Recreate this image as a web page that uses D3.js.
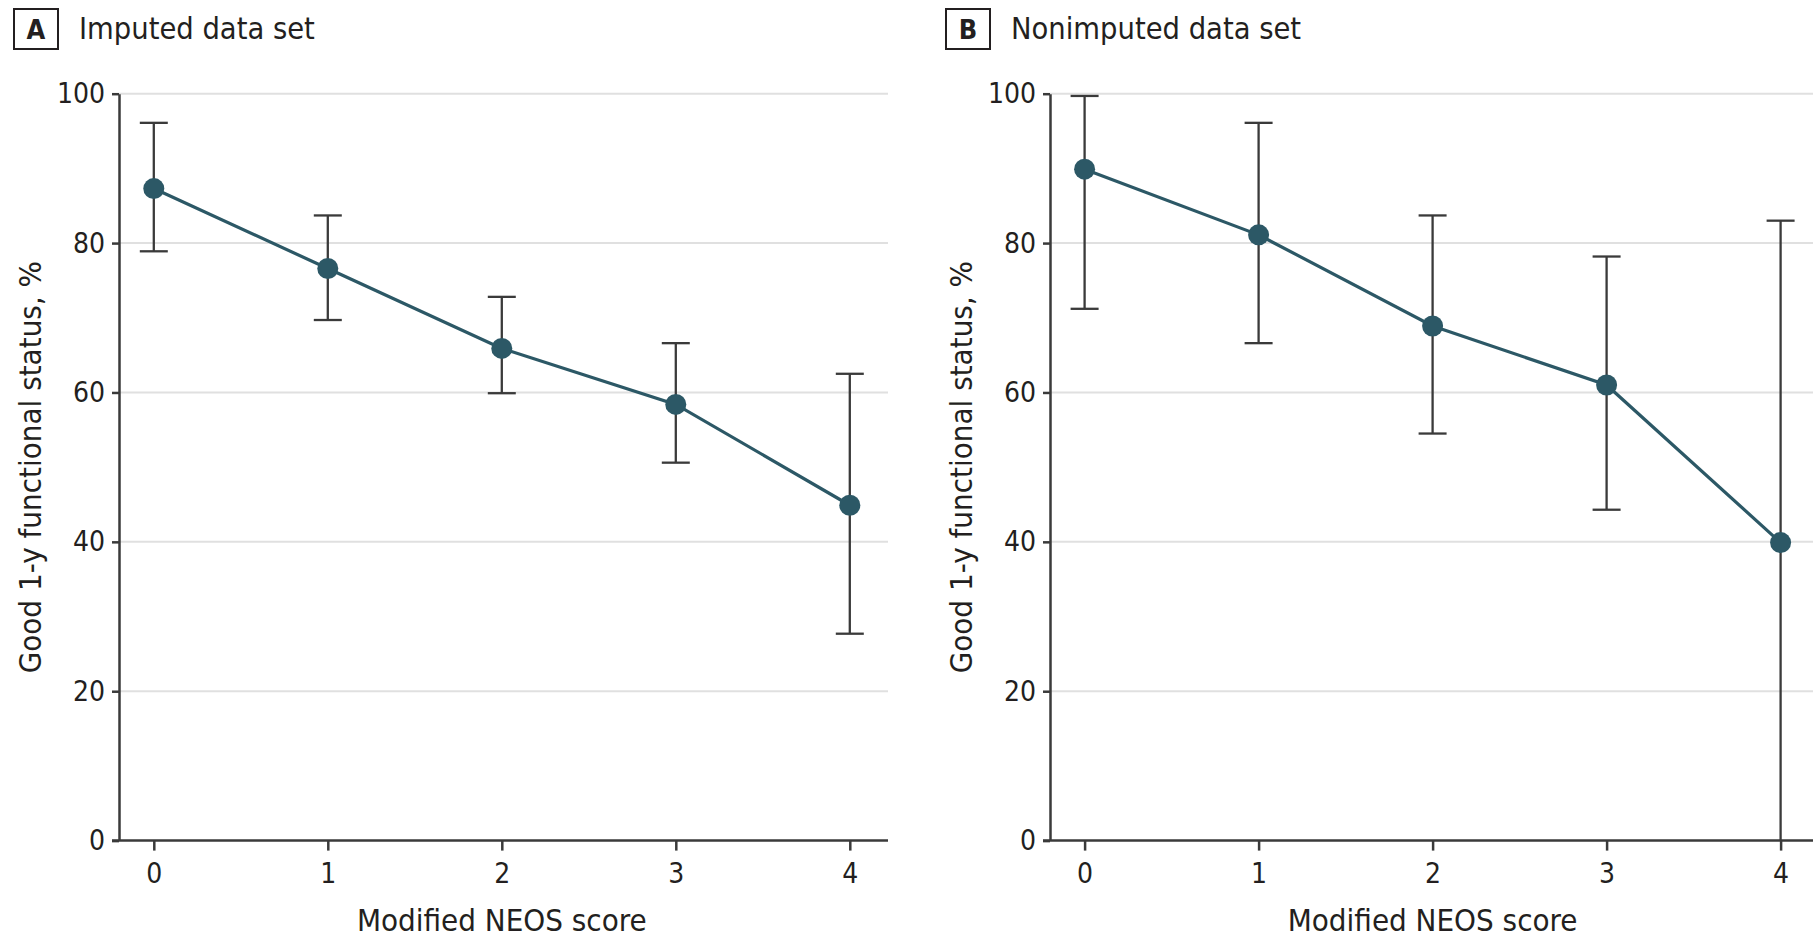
<!DOCTYPE html>
<html>
<head>
<meta charset="utf-8">
<script src="https://cdn.jsdelivr.net/npm/d3@7"></script>
<style>
  html, body { margin: 0; padding: 0; background: #fff; }
  svg { display: block; }
  text { font-family: "Liberation Sans Narrow", "DejaVu Sans Condensed", "Noto Sans", sans-serif; fill: #231f20; }
</style>
</head>
<body>
<svg id="chart" width="1813" height="944"></svg>
<script>
// ---- Data ----
const scores = [0, 1, 2, 3, 4];
const yTicks = [0, 20, 40, 60, 80, 100];

const imputedEstimate = [87.3, 76.6, 65.9, 58.4, 44.9];
const imputedLower    = [78.9, 69.7, 59.9, 50.6, 27.7];
const imputedUpper    = [96.1, 83.7, 72.8, 66.6, 62.5];

const nonimputedEstimate = [89.9, 81.1, 68.9, 61.0, 39.9];
const nonimputedLower    = [71.2, 66.6, 54.5, 44.3, 0.0];
const nonimputedUpper    = [99.7, 96.1, 83.7, 78.2, 83.0];

const panelLetters = ["A", "B"];
const panelTitles = ["Imputed data set", "Nonimputed data set"];
const xTitle = "Modified NEOS score";
const yTitle = "Good 1-y functional status, %";

// ---- Drawing ----
const svg = d3.select("#chart");
const lineColor = "#2c5866";
const axisColor = "#3a3a3a";
const gridColor = "#e0e0e0";
const fontStack = '"Liberation Sans Narrow", "DejaVu Sans Condensed", sans-serif';

const plotTop = 93.7, plotBottom = 840.6;

const panels = [
  { letter: panelLetters[0], title: panelTitles[0], est: imputedEstimate, lo: imputedLower, hi: imputedUpper,
    axisX: 119, rightX: 888, x0: 153.8, x4: 849.8, boxX: 14, titleX: 79, yTitleX: 31 },
  { letter: panelLetters[1], title: panelTitles[1], est: nonimputedEstimate, lo: nonimputedLower, hi: nonimputedUpper,
    axisX: 1050, rightX: 1813, x0: 1084.6, x4: 1780.6, boxX: 946, titleX: 1011, yTitleX: 962 }
];

panels.forEach(p => {
  const g = svg.append("g");
  const x = d3.scaleLinear().domain([0, 4]).range([p.x0, p.x4]);
  const y = d3.scaleLinear().domain([0, 100]).range([plotBottom, plotTop]);

  // gridlines
  g.append("g").selectAll("line").data(yTicks.filter(t => t > 0)).join("line")
    .attr("x1", p.axisX).attr("x2", p.rightX)
    .attr("y1", d => y(d)).attr("y2", d => y(d))
    .attr("stroke", gridColor).attr("stroke-width", 2);

  // y axis
  const yAxis = d3.axisLeft(y).tickValues(yTicks).tickSize(7).tickPadding(7).tickSizeOuter(0);
  const ya = g.append("g").attr("transform", `translate(${p.axisX},0)`).call(yAxis);
  ya.select(".domain").attr("stroke", axisColor).attr("stroke-width", 2.5);
  ya.selectAll(".tick line").attr("stroke", axisColor).attr("stroke-width", 2.5);
  ya.selectAll(".tick text").style("font-size", "28px").attr("fill", "#231f20")
    .style("font-family", fontStack);

  // x axis
  const xAxis = d3.axisBottom(x).tickValues(scores).tickSize(10).tickPadding(13).tickSizeOuter(0)
    .tickFormat(d3.format("d"));
  const xa = g.append("g").attr("transform", `translate(0,${plotBottom})`).call(xAxis);
  xa.select(".domain").attr("d", `M${p.axisX - 7},0H${p.rightX}`)
    .attr("stroke", axisColor).attr("stroke-width", 2.5);
  xa.selectAll(".tick line").attr("stroke", axisColor).attr("stroke-width", 2.5);
  xa.selectAll(".tick text").style("font-size", "28px").attr("fill", "#231f20")
    .style("font-family", fontStack);

  // axis titles
  g.append("text").attr("x", (p.x0 + p.x4) / 2).attr("y", 931)
    .attr("text-anchor", "middle").style("font-size", "31px").text(xTitle);
  g.append("text").attr("transform", `translate(${p.yTitleX + 10},${(plotTop + plotBottom) / 2}) rotate(-90)`)
    .attr("text-anchor", "middle").style("font-size", "31px").text(yTitle);

  // panel label and title
  g.append("rect").attr("x", p.boxX).attr("y", 9).attr("width", 44).attr("height", 40)
    .attr("fill", "none").attr("stroke", "#231f20").attr("stroke-width", 2);
  g.append("text").attr("x", p.boxX + 22).attr("y", 39).attr("text-anchor", "middle")
    .style("font-size", "27px").style("font-weight", "bold").text(p.letter);
  g.append("text").attr("x", p.titleX).attr("y", 39)
    .style("font-size", "30.5px").attr("fill", "#231f20").text(p.title);

  const data = scores.map((s, i) => ({ s, est: p.est[i], lo: p.lo[i], hi: p.hi[i] }));

  // error bars
  const eb = g.append("g").attr("stroke", axisColor).attr("stroke-width", 2.3);
  eb.selectAll("line.v").data(data).join("line").attr("class", "v")
    .attr("x1", d => x(d.s)).attr("x2", d => x(d.s))
    .attr("y1", d => y(d.lo)).attr("y2", d => y(d.hi));
  eb.selectAll("line.top").data(data).join("line").attr("class", "top")
    .attr("x1", d => x(d.s) - 14).attr("x2", d => x(d.s) + 14)
    .attr("y1", d => y(d.hi)).attr("y2", d => y(d.hi));
  eb.selectAll("line.bot").data(data.filter(d => d.lo > 0)).join("line").attr("class", "bot")
    .attr("x1", d => x(d.s) - 14).attr("x2", d => x(d.s) + 14)
    .attr("y1", d => y(d.lo)).attr("y2", d => y(d.lo));

  // line
  g.append("path").datum(data)
    .attr("d", d3.line().x(d => x(d.s)).y(d => y(d.est)))
    .attr("fill", "none").attr("stroke", lineColor).attr("stroke-width", 3.2);

  // points
  g.append("g").selectAll("circle").data(data).join("circle")
    .attr("cx", d => x(d.s)).attr("cy", d => y(d.est)).attr("r", 10.5)
    .attr("fill", lineColor);
});
</script>
</body>
</html>
